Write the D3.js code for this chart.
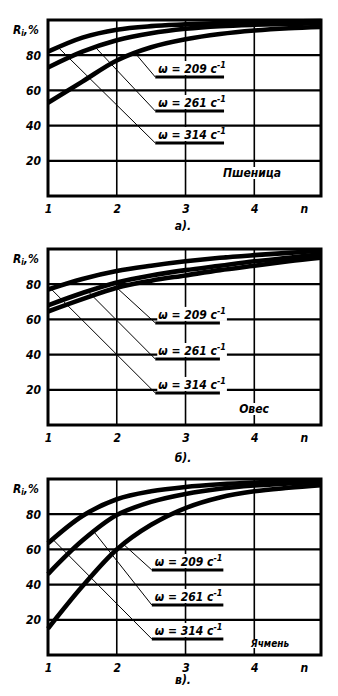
<!DOCTYPE html>
<html><head><meta charset="utf-8">
<script src="https://cdn.jsdelivr.net/npm/d3@7"></script>
<style>
html,body{margin:0;padding:0;background:#fff;}
svg{display:block;}
text{font-family:"DejaVu Sans Condensed","DejaVu Sans",sans-serif;font-weight:bold;font-style:italic;fill:#000;}
</style></head><body>
<svg id="chart" width="338" height="696"></svg>
<script>
// ---- data ----
const nValues = [1, 1.5, 2, 2.5, 3, 3.5, 4, 4.5, 4.97];
const omegas = [314, 261, 209];
// а) Пшеница
const wheat314 = [82, 90, 94.5, 96.5, 97.5, 98.3, 98.8, 99.2, 99.4];
const wheat261 = [73, 82, 88.5, 92.5, 95, 96.5, 97.3, 97.8, 98.2];
const wheat209 = [53, 65, 77, 84.5, 89, 92, 94, 95.3, 96];
// б) Овес
const oats314 = [77, 83, 87.5, 90.5, 93, 95, 96.5, 97.8, 99];
const oats261 = [68, 75, 81, 85, 88, 90.5, 93, 95, 97];
const oats209 = [64.5, 71.5, 78, 82, 85, 88, 90.5, 93, 95];
// в) Ячмень
const barley314 = [63.5, 79, 88.5, 93, 95.5, 97, 98, 98.7, 99.2];
const barley261 = [46, 65, 79.5, 87, 91.5, 94.5, 96.3, 97.5, 98.5];
const barley209 = [15, 39, 60, 74, 83.5, 89.5, 93, 95, 96.5];

const yTickValues = [20, 40, 60, 80];
const xTickValues = [1, 2, 3, 4, 4.72];
const xTickLabels = ["1", "2", "3", "4", "n"];
const panelNames = ["Пшеница", "Овес", "Ячмень"];
const panelCaptions = ["а).", "б).", "в)."];

// annotation anchors in data units (n, R)
const leaderStartN = [[1.15, 1.69, 2.27], [1.04, 1.58, 2.0], [1.07, 1.67, 2.1]];
const labelR = [[30.1, 48.3, 67.6], [18.2, 37.5, 58], [9.1, 28.4, 48.3]];
const labelNStart = [2.56, 2.56, 2.51];
const labelNEnd = [3.56, 3.5, 3.55];

// ---- layout ----
const svg = d3.select("#chart");
const left = 48, right = 321, ph = 176;
const tops = [20, 249, 479];
const captionOffsets = [34, 37, 29];
const nameCfg = [{x: 252, dy: -19, size: 12}, {x: 254, dy: -12, size: 12}, {x: 270, dy: -8, size: 10}];
const seriesSets = [[wheat314, wheat261, wheat209], [oats314, oats261, oats209], [barley314, barley261, barley209]];

seriesSets.forEach((series, pi) => {
  const top = tops[pi], bottom = top + ph;
  const x = d3.scaleLinear().domain([1, 4.97]).range([left, right]);
  const y = d3.scaleLinear().domain([0, 100]).range([bottom, top]);
  const g = svg.append("g");

  // grid
  g.selectAll(".hg").data(yTickValues).enter().append("line")
    .attr("x1", left).attr("x2", right).attr("y1", d => y(d)).attr("y2", d => y(d))
    .attr("stroke", "#000").attr("stroke-width", 2.2);
  g.selectAll(".vg").data([2, 3, 4]).enter().append("line")
    .attr("x1", d => x(d)).attr("x2", d => x(d)).attr("y1", top).attr("y2", bottom)
    .attr("stroke", "#000").attr("stroke-width", 1.6);

  // label texts (measure first for white backgrounds)
  const labelsG = g.append("g");
  const texts = [];
  omegas.forEach((om, si) => {
    const lx = x(labelNStart[pi]), ly = y(labelR[pi][si]);
    const t = labelsG.append("text").attr("x", lx + 3).attr("y", ly - 4).attr("font-size", 12);
    t.append("tspan").text("ω = " + om + " с");
    t.append("tspan").attr("dy", -5).attr("font-size", 9).text("-1");
    texts.push(t);
  });
  const nm = labelsG.append("text").attr("x", nameCfg[pi].x).attr("y", bottom + nameCfg[pi].dy)
    .attr("text-anchor", "middle").attr("font-size", nameCfg[pi].size).text(panelNames[pi]);
  texts.push(nm);
  texts.forEach(t => {
    const b = t.node().getBBox();
    g.insert("rect", () => labelsG.node()).attr("x", b.x - 1).attr("y", b.y + 1)
      .attr("width", b.width + 2).attr("height", b.height - 2).attr("fill", "#fff");
  });

  // frame
  g.append("rect").attr("x", left).attr("y", top).attr("width", right - left).attr("height", ph)
    .attr("fill", "none").attr("stroke", "#000").attr("stroke-width", 3);

  // curves
  const line = d3.line().x((d, i) => x(nValues[i])).y(d => y(d)).curve(d3.curveCatmullRom.alpha(0.5));
  series.forEach(s => {
    g.append("path").attr("d", line(s)).attr("fill", "none").attr("stroke", "#000")
      .attr("stroke-width", 4.6);
  });

  // leaders and underlines
  omegas.forEach((om, si) => {
    const interp = d3.scaleLinear().domain(nValues).range(series[si]);
    const n0 = leaderStartN[pi][si];
    const lx = x(labelNStart[pi]), ly = y(labelR[pi][si]);
    g.append("line").attr("x1", x(n0)).attr("y1", y(interp(n0))).attr("x2", lx).attr("y2", ly)
      .attr("stroke", "#000").attr("stroke-width", 1);
    g.append("line").attr("x1", lx).attr("x2", x(labelNEnd[pi])).attr("y1", ly).attr("y2", ly)
      .attr("stroke", "#000").attr("stroke-width", 3);
  });
  labelsG.raise();

  // axes labels
  const yAxis = d3.axisLeft(y).tickValues(yTickValues).tickSize(0).tickPadding(7).tickFormat(d3.format("d"));
  const ya = g.append("g").attr("transform", `translate(${left},0)`).call(yAxis);
  ya.select(".domain").remove();
  ya.attr("font-family", null);
  ya.selectAll("text").attr("font-size", 12);
  const xAxis = d3.axisBottom(x).tickValues(xTickValues).tickSize(0).tickPadding(8)
    .tickFormat((d, i) => xTickLabels[i]);
  const xa = g.append("g").attr("transform", `translate(0,${bottom})`).call(xAxis);
  xa.select(".domain").remove();
  xa.attr("font-family", null);
  xa.selectAll("text").attr("font-size", 12);

  // y title
  const yt = g.append("text").attr("x", 13).attr("y", top + 14).attr("font-size", 12);
  yt.append("tspan").text("R");
  yt.append("tspan").attr("font-size", 8).attr("dy", 2).text("i");
  yt.append("tspan").attr("dy", -2).text(",%");

  // caption
  g.append("text").attr("x", 183).attr("y", bottom + captionOffsets[pi]).attr("text-anchor", "middle")
    .attr("font-size", 12).text(panelCaptions[pi]);
});
</script>
</body></html>
